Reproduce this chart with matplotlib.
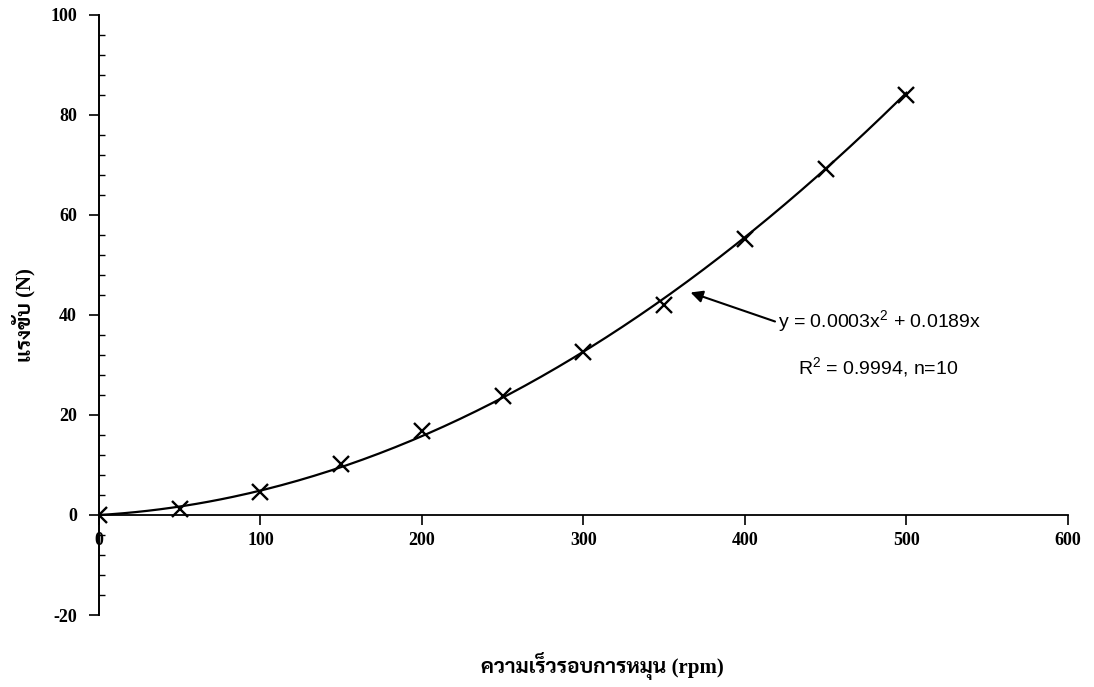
import matplotlib
matplotlib.use("Agg")
import matplotlib.pyplot as plt
import numpy as np
from matplotlib.ticker import MultipleLocator

plt.rcParams['axes.unicode_minus'] = False
plt.rcParams['mathtext.fontset'] = 'custom'
plt.rcParams['mathtext.rm'] = 'Liberation Sans'

# measured points (rpm, N)
speed = [0, 50, 100, 150, 200, 250, 300, 350, 400, 450, 500]
force = [0, 1.2, 4.6, 10.2, 16.7, 23.7, 32.6, 42.0, 55.1, 69.2, 84.0]

# trend line y = a*x^2 + b*x
fit_coef = [0.0003, 0.0189, 0.0]
eq_text = r"y = 0.0003x$^{\mathrm{2}}$ + 0.0189x"
r2_text = r"R$^{\mathrm{2}}$ = 0.9994, n=10"

xlabel = "ความเร็วรอบการหมุน (rpm)"
ylabel = "แรงขับ (N)"

serif_thai = ['Liberation Serif', 'Sarabun', 'Noto Serif Thai', 'Noto Sans Thai', 'DejaVu Sans']

fig = plt.figure(figsize=(10.94, 6.87), dpi=100)
ax = fig.add_axes([0.0905, 0.1048, 0.8857, 0.8734])

xs = np.linspace(0, 500, 200)
ax.plot(xs, np.polyval(fit_coef, xs), color='black', lw=1.6, zorder=2)
ax.plot(speed, force, ls='none', marker='x', ms=12, mew=1.7, color='black', zorder=3)

ax.set_xlim(0, 600)
ax.set_ylim(-20, 100)

ax.spines['top'].set_visible(False)
ax.spines['right'].set_visible(False)
ax.spines['bottom'].set_position(('data', 0))
ax.spines['left'].set_linewidth(1.4)
ax.spines['bottom'].set_linewidth(1.3)

ax.xaxis.set_major_locator(MultipleLocator(100))
ax.yaxis.set_major_locator(MultipleLocator(20))
ax.yaxis.set_minor_locator(MultipleLocator(4))
ax.tick_params(axis='x', which='major', direction='out', length=7, width=1.2, pad=5)
ax.tick_params(axis='y', which='major', direction='out', length=7, width=1.2, pad=9)
ax.tick_params(axis='y', which='minor', direction='in', length=4.5, width=1.0)

for lab in ax.get_xticklabels() + ax.get_yticklabels():
    lab.set_family('Liberation Serif')
    lab.set_fontweight('bold')
    lab.set_fontsize(13)

ax.set_xlabel(xlabel, family=serif_thai, fontweight='bold', fontsize=15)
ax.xaxis.set_label_coords(0.52, -0.062)
ax.set_ylabel(ylabel, family=serif_thai, fontweight='bold', fontsize=15)
ax.yaxis.set_label_coords(-0.066, 0.5)

# arrow pointing at the fitted curve
ax.annotate('', xy=(366.3, 44.5), xytext=(418.6, 38.7),
            arrowprops=dict(arrowstyle='-|>', color='black', lw=1.5,
                            mutation_scale=18, shrinkA=0, shrinkB=0))
ax.text(420.4, 38.7, eq_text, fontsize=14, family='Liberation Sans', va='center', ha='left')
ax.text(432.8, 29.4, r2_text, fontsize=14, family='Liberation Sans', va='center', ha='left')

fig.savefig("out.png", dpi=100)
